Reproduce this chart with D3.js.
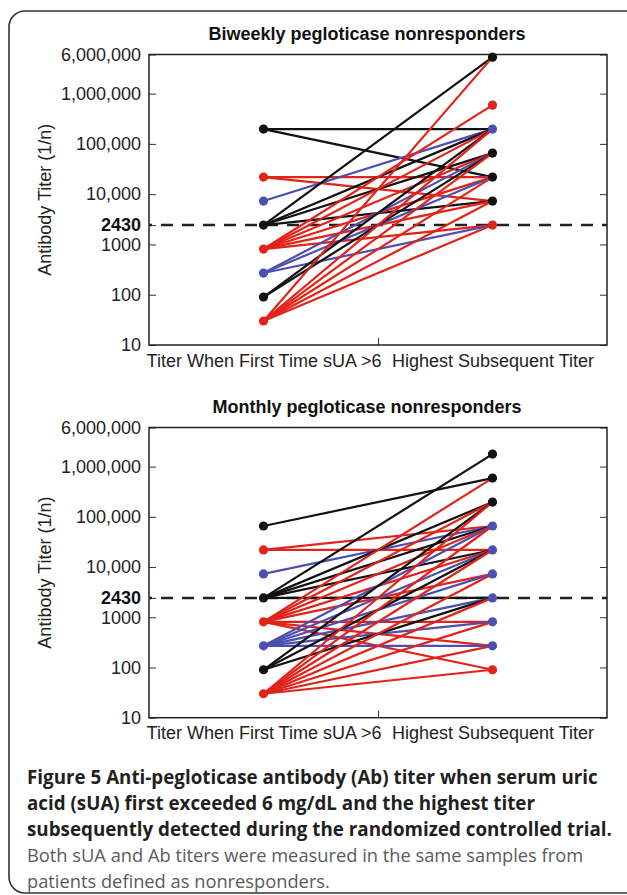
<!DOCTYPE html>
<html>
<head>
<meta charset="utf-8">
<script src="https://cdn.jsdelivr.net/npm/d3@7"></script>
<style>
  body { margin: 0; background: #fff; }
  svg { display: block; }
  .tick text { font-family: "Liberation Sans", Arial, sans-serif; font-size: 18px; fill: #222; }
  .cap { font-family: "Open Sans", sans-serif; }
</style>
</head>
<body>
<div id="chart"></div>
<script>
// y axis ticks (log scale)
const yTickValues = [10, 100, 1000, 2430, 10000, 100000, 1000000, 6000000];
const yTickLabels = ['10', '100', '1000', '2430', '10,000', '100,000', '1,000,000', '6,000,000'];
const xTickLabels = ['Titer When First Time sUA >6', 'Highest Subsequent Titer'];

// biweekly panel: one entry per patient line
const biweeklyFirst   = [196830, 196830, 21870, 21870, 7290, 2430, 2430, 2430, 2430, 810, 810, 810, 810, 810, 810, 270, 270, 270, 90, 90, 30, 30, 30, 30, 30, 30];
const biweeklyHighest = [196830, 21870, 21870, 7290, 196830, 5314410, 196830, 65610, 7290, 590490, 196830, 65610, 21870, 7290, 2430, 65610, 21870, 2430, 196830, 65610, 5314410, 196830, 65610, 21870, 7290, 2430];
const biweeklyGroup   = ['k', 'k', 'r', 'r', 'b', 'k', 'k', 'k', 'k', 'r', 'r', 'r', 'r', 'r', 'r', 'b', 'b', 'b', 'k', 'k', 'r', 'r', 'r', 'r', 'r', 'r'];
const biweeklyEndTiters = [5314410, 590490, 196830, 65610, 21870, 7290, 2430];
const biweeklyEndGroups = ['k', 'r', 'b', 'k', 'k', 'k', 'r'];

// monthly panel
const monthlyFirst   = [65610, 21870, 21870, 7290, 2430, 2430, 2430, 2430, 2430, 810, 810, 810, 810, 810, 810, 810, 810, 270, 270, 270, 270, 270, 270, 90, 90, 90, 30, 30, 30, 30, 30, 30, 30, 30];
const monthlyHighest = [590490, 21870, 65610, 65610, 1771470, 196830, 65610, 21870, 2430, 590490, 196830, 65610, 21870, 7290, 810, 270, 90, 65610, 21870, 7290, 2430, 810, 270, 196830, 21870, 2430, 196830, 65610, 21870, 7290, 2430, 810, 270, 90];
const monthlyGroup   = ['k', 'r', 'r', 'b', 'k', 'k', 'k', 'k', 'k', 'r', 'r', 'r', 'r', 'r', 'r', 'r', 'r', 'b', 'b', 'b', 'b', 'b', 'b', 'k', 'k', 'k', 'r', 'r', 'r', 'r', 'r', 'r', 'r', 'r'];
const monthlyEndTiters = [1771470, 590490, 196830, 65610, 21870, 7290, 2430, 810, 270, 90];
const monthlyEndGroups = ['k', 'k', 'k', 'b', 'b', 'b', 'b', 'b', 'b', 'r'];

const cutoff = 2430;

const captionLines = [
    ['Figure 5', ' Anti-pegloticase antibody (Ab) titer when serum uric'],
    ['', 'acid (sUA) first exceeded 6 mg/dL and the highest titer'],
    ['', 'subsequently detected during the randomized controlled trial.']
];
const captionPlain = [
    'Both sUA and Ab titers were measured in the same samples from',
    'patients defined as nonresponders.'
];

const colors = {k: '#111111', r: '#e2231a', b: '#4b50b2'};

const W = 627, H = 895;
const svg = d3.select('#chart').append('svg').attr('width', W).attr('height', H);

// outer rounded frame
svg.append('rect')
    .attr('x', 9).attr('y', 11).attr('width', 660).attr('height', 882)
    .attr('rx', 16)
    .attr('fill', 'none').attr('stroke', '#333').attr('stroke-width', 1.6);

const plotLeft = 149, plotRight = 607;
const x = d3.scaleLinear().domain([0, 4]).range([plotLeft, plotRight]);

function drawPanel(opts) {
    const {title, titleY, top, bottom, first, highest, group, endTiters, endGroups} = opts;
    const y = d3.scaleLog().domain([10, 6000000]).range([bottom, top]);
    const g = svg.append('g');

    g.append('text')
        .attr('x', 367).attr('y', titleY)
        .attr('text-anchor', 'middle')
        .style('font-family', '"Liberation Sans", Arial, sans-serif')
        .style('font-size', '18px').style('font-weight', 'bold').style('fill', '#111')
        .text(title);

    // left axis, inward ticks
    const yAxis = d3.axisLeft(y).tickValues(yTickValues)
        .tickFormat((d, i) => yTickLabels[i])
        .tickSizeInner(-7).tickSizeOuter(0).tickPadding(8);
    const ya = g.append('g').attr('transform', `translate(${plotLeft},0)`).call(yAxis);
    ya.select('.domain').remove();
    ya.selectAll('.tick line').attr('stroke', '#333');
    ya.selectAll('.tick text').filter(d => d === cutoff).style('font-weight', 'bold').style('fill', '#111');

    // right axis, ticks only
    const yAxisR = d3.axisRight(y).tickValues(yTickValues.filter(d => d !== cutoff))
        .tickFormat('').tickSizeInner(-7).tickSizeOuter(0);
    const yr = g.append('g').attr('transform', `translate(${plotRight},0)`).call(yAxisR);
    yr.select('.domain').remove();
    yr.selectAll('.tick line').attr('stroke', '#333');

    // bottom axis: center tick + category labels
    const xa = g.append('g').attr('transform', `translate(0,${bottom})`)
        .call(d3.axisBottom(x).tickValues([2]).tickFormat('').tickSizeInner(-7).tickSizeOuter(0));
    xa.select('.domain').remove();
    xa.selectAll('.tick line').attr('stroke', '#333');
    const xl = g.append('g').attr('transform', `translate(0,${bottom})`)
        .call(d3.axisBottom(x).tickValues([1, 3]).tickFormat((d, i) => xTickLabels[i]).tickSize(0).tickPadding(9));
    xl.select('.domain').remove();

    // y title
    g.append('text')
        .attr('transform', `translate(51,${(top + bottom) / 2}) rotate(-90)`)
        .attr('text-anchor', 'middle')
        .style('font-family', '"Liberation Sans", Arial, sans-serif')
        .style('font-size', '18px').style('fill', '#222')
        .text('Antibody Titer (1/n)');

    // plot box
    g.append('rect')
        .attr('x', plotLeft).attr('y', top)
        .attr('width', plotRight - plotLeft).attr('height', bottom - top)
        .attr('fill', 'none').attr('stroke', '#222').attr('stroke-width', 1.5);

    // cutoff line
    g.append('line')
        .attr('x1', plotLeft).attr('x2', plotRight)
        .attr('y1', y(cutoff)).attr('y2', y(cutoff))
        .attr('stroke', '#222').attr('stroke-width', 2.5)
        .attr('stroke-dasharray', '12,9').attr('stroke-dashoffset', -12);

    const rows = first.map((v, i) => ({a: v, b: highest[i], c: group[i]}));

    g.selectAll('line.pt').data(rows).enter().append('line')
        .attr('class', 'pt')
        .attr('x1', x(1)).attr('x2', x(3))
        .attr('y1', d => y(d.a)).attr('y2', d => y(d.b))
        .attr('stroke', d => colors[d.c]).attr('stroke-width', 2.2);

    const starts = Array.from(new Map(rows.map(d => [d.a, d.c])).entries());
    g.selectAll('circle.s').data(starts).enter().append('circle')
        .attr('cx', x(1)).attr('cy', d => y(d[0])).attr('r', 4.6)
        .attr('fill', d => colors[d[1]]);

    g.selectAll('circle.e').data(endTiters).enter().append('circle')
        .attr('cx', x(3)).attr('cy', d => y(d)).attr('r', 4.6)
        .attr('fill', (d, i) => colors[endGroups[i]]);
}

drawPanel({
    title: 'Biweekly pegloticase nonresponders', titleY: 40,
    top: 54.5, bottom: 345,
    first: biweeklyFirst, highest: biweeklyHighest, group: biweeklyGroup,
    endTiters: biweeklyEndTiters, endGroups: biweeklyEndGroups
});

drawPanel({
    title: 'Monthly pegloticase nonresponders', titleY: 413,
    top: 427.5, bottom: 717.7,
    first: monthlyFirst, highest: monthlyHighest, group: monthlyGroup,
    endTiters: monthlyEndTiters, endGroups: monthlyEndGroups
});

// caption
const cap = svg.append('g').attr('class', 'cap');
captionLines.forEach((ln, i) => {
    const t = cap.append('text').attr('x', 27).attr('y', 784 + i * 26)
        .style('font-size', '18.8px').style('font-weight', 700).style('fill', '#231f20');
    t.append('tspan').text(ln[0]);
    t.append('tspan').text(ln[1]);
});
captionPlain.forEach((s, i) => {
    cap.append('text').attr('x', 27).attr('y', 862 + i * 26)
        .style('font-size', '18.3px').style('fill', '#5a5b5d').text(s);
});
</script>
</body>
</html>
